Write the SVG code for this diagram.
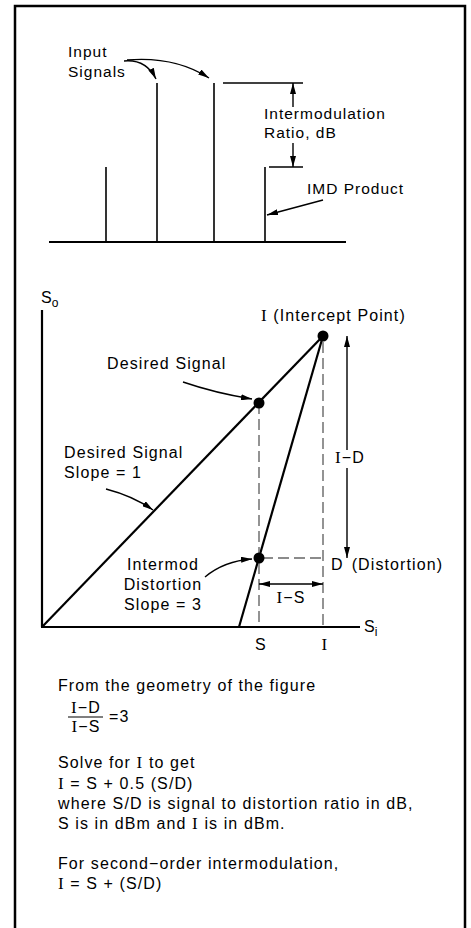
<svg xmlns="http://www.w3.org/2000/svg" width="471" height="928" viewBox="0 0 471 928">
<style>
text{font-family:"Liberation Sans",Arial,sans-serif;font-size:16px;fill:#000;letter-spacing:1.1px}
.t{font-size:15.5px;letter-spacing:1px}
.s{font-size:12px;letter-spacing:0}
.m{text-anchor:middle}
.I{font-family:"Liberation Serif","Times New Roman",serif;font-size:17px}
.ln{stroke:#000;fill:none}
.ax{stroke:#000;stroke-width:2.2;fill:none}
.ar{stroke:#000;stroke-width:1.4;fill:none;marker-end:url(#ah)}
.dd{stroke:#666;stroke-width:1.4;fill:none;stroke-dasharray:11 5}
</style>
<defs>
<marker id="ah" viewBox="0 0 11 6" refX="11" refY="3" markerWidth="11" markerHeight="6" markerUnits="userSpaceOnUse" orient="auto-start-reverse"><path d="M0,0 L11,3 L0,6 z" fill="#000"/></marker>
</defs>
<rect x="15" y="6" width="450" height="940" fill="#fff" stroke="#000" stroke-width="2.5"/>

<g id="spectrum">
<line class="ax" x1="49" y1="242" x2="346" y2="242"/>
<line class="ln" stroke-width="1.6" x1="106" y1="167" x2="106" y2="242"/>
<line class="ln" stroke-width="1.6" x1="157" y1="83" x2="157" y2="242"/>
<line class="ln" stroke-width="1.6" x1="214" y1="83" x2="214" y2="242"/>
<line class="ln" stroke-width="1.6" x1="265" y1="167" x2="265" y2="242"/>
<line class="ln" stroke-width="1.4" x1="223" y1="83" x2="303" y2="83"/>
<line class="ln" stroke-width="1.4" x1="269" y1="167" x2="303" y2="167"/>
</g>
<g id="input-signals-label"><text class="t" x="68" y="57">Input</text><text class="t" x="68" y="77">Signals</text></g>
<g id="imd-ratio-label"><text class="t" x="264" y="119">Intermodulation</text><text class="t" x="264" y="138">Ratio, dB</text></g>
<g id="imd-product-label"><text class="t" x="307" y="194">IMD Product</text></g>

<g id="graph-axes">
<line class="ax" x1="42" y1="310" x2="42" y2="627"/>
<line class="ax" x1="41" y1="627" x2="360" y2="627"/>
<text x="41" y="303">S<tspan class="s" dx="-1" dy="4">o</tspan></text>
<text x="364" y="632">S<tspan class="s" dx="-1" dy="4">i</tspan></text>
<text class="m" x="261" y="650">S</text>
<text class="m I" x="325" y="650">I</text>
</g>
<g id="curves">
<line class="ax" x1="42" y1="627" x2="323" y2="336"/>
<line class="ax" x1="323" y1="336" x2="239" y2="627"/>
</g>
<g id="guides">
<line class="dd" x1="259" y1="403" x2="259" y2="627"/>
<line class="dd" x1="323" y1="342" x2="323" y2="627"/>
<line class="dd" x1="262" y1="558" x2="323" y2="558"/>
</g>
<g id="intercept-point"><circle cx="323" cy="336" r="5.5"/><text x="261" y="321"><tspan class="I">I</tspan> (Intercept Point)</text></g>
<g id="desired-point"><circle cx="259" cy="403" r="5.5"/><text x="107" y="369">Desired Signal</text></g>
<g id="distortion-point"><circle cx="259" cy="558" r="5.5"/><text x="331" y="570">D<tspan dx="8">(Distortion)</tspan></text></g>
<g id="desired-slope-label"><text x="64" y="458">Desired Signal</text><text x="64" y="478">Slope = 1</text></g>
<g id="intermod-label"><text class="m" x="163" y="570">Intermod</text><text class="m" x="163" y="590">Distortion</text><text class="m" x="163" y="610">Slope = 3</text></g>
<g id="id-dim"><text class="m" x="350" y="463"><tspan class="I">I</tspan>−D</text></g>
<g id="is-dim"><text class="m" x="291" y="603"><tspan class="I">I</tspan>−S</text></g>

<g id="connectors">
<path class="ar" d="M124,61 Q146,59 156,79"/>
<path class="ar" d="M127,60 Q175,56 209,78"/>
<line class="ar" x1="293" y1="107" x2="293" y2="83"/>
<line class="ar" x1="293" y1="143" x2="293" y2="167"/>
<line class="ar" x1="323" y1="200" x2="267" y2="215"/>
<path class="ar" d="M183,382 Q215,393 252,399"/>
<path class="ar" d="M106,489 Q133,496 153,510"/>
<path class="ar" d="M205,577 Q224,561 252,559"/>
<line class="ar" x1="347" y1="450" x2="347" y2="336"/>
<line class="ar" x1="347" y1="468" x2="347" y2="558"/>
<line class="ar" style="marker-start:url(#ah)" x1="259" y1="584" x2="323" y2="584"/>
</g>

<g id="notes">
<text x="58" y="691">From the geometry of the figure</text>
<text class="m" x="86" y="713"><tspan class="I">I</tspan>−D</text>
<line class="ln" stroke-width="1.2" x1="68" y1="717" x2="103" y2="717"/>
<text class="m" x="86" y="732"><tspan class="I">I</tspan>−S</text>
<text x="109" y="722">=3</text>
<text x="58" y="768">Solve for <tspan class="I">I</tspan> to get</text>
<text x="58" y="789"><tspan class="I">I</tspan> = S + 0.5 (S/D)</text>
<text x="58" y="809">where S/D is signal to distortion ratio in dB,</text>
<text x="58" y="829">S is in dBm and <tspan class="I">I</tspan> is in dBm.</text>
<text x="58" y="869">For second−order intermodulation,</text>
<text x="58" y="889"><tspan class="I">I</tspan> = S + (S/D)</text>
</g>
</svg>
